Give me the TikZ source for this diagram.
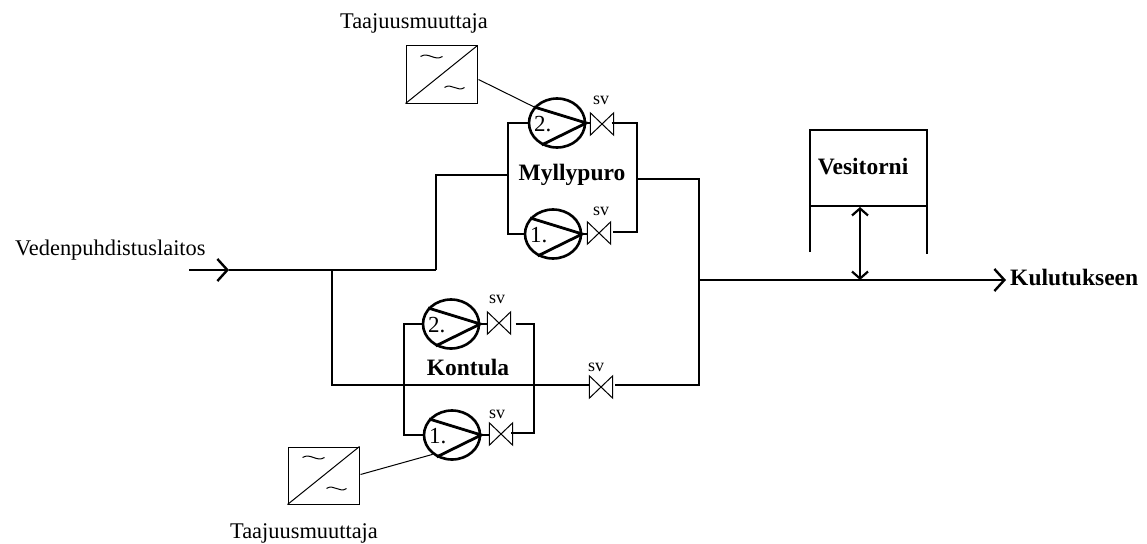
\documentclass[tikz,border=0pt]{standalone}
\usepackage{fontspec}
\setmainfont{Liberation Serif}
\usetikzlibrary{arrows.meta,shapes.geometric}
\tikzset{
  pipe/.style={line width=2.8pt,line join=miter},
  thinline/.style={line width=1pt},
  wire/.style={line width=1pt},
  pumpbody/.style={ellipse,draw,line width=2.6pt,inner sep=0pt,minimum width=56pt,minimum height=49pt},
  valvebody/.style={rectangle,inner sep=0pt,minimum width=23pt,minimum height=22pt},
  conv/.style={rectangle,draw,line width=1pt,inner sep=0pt,minimum width=71pt,minimum height=57pt},
  lab/.style={inner sep=0pt,font=\fontsize{22.4}{24}\selectfont},
  blab/.style={inner sep=0pt,font=\fontsize{23.5}{26}\selectfont\bfseries},
  svlab/.style={inner sep=0pt,font=\fontsize{18}{20}\selectfont},
  numlab/.style={inner sep=0pt,font=\fontsize{23}{26}\selectfont},
  openarrow/.style={-{Straight Barb[length=10pt,width=22pt,line width=2.4pt]}}
}
\newcommand{\mypump}[4]{% name, x, y, number
  \node[pumpbody] (#1) at (#2,#3) {};
  \draw[line width=2.8pt] (#1.145) -- (#1.east) -- (#1.235);
  \node[numlab] at ([xshift=15pt,yshift=-1pt]#1.west) {#4};
}
\newcommand{\myvalve}[3]{% name, x, y
  \node[valvebody] (#1) at (#2,#3) {};
  \draw[thinline] (#1.north west) -- (#1.south east) -- (#1.north east) -- (#1.south west) -- cycle;
}
\newcommand{\myconv}[3]{% name, x, y
  \node[conv] (#1) at (#2,#3) {};
  \draw[thinline] (#1.south west) -- (#1.north east);
  \draw[thinline] ([shift={(15pt,-11pt)}]#1.north west) .. controls +(8pt,5pt) and +(-8pt,-5pt) .. +(22pt,0pt);
  \draw[thinline] ([shift={(39pt,-42pt)}]#1.north west) .. controls +(7pt,5pt) and +(-7pt,-5pt) .. +(20pt,0pt);
}
\begin{document}
\begin{tikzpicture}[x=1pt,y=-1pt]
\useasboundingbox (0,0) rectangle (1147,543);
% pumps and valves
\mypump{mb}{557}{123}{2.}
\mypump{ma}{553}{234}{1.}
\mypump{kb}{451}{324}{2.}
\mypump{ka}{452}{435}{1.}
\myvalve{vmb}{602}{124}
\myvalve{vma}{599}{233}
\myvalve{vkb}{499}{323}
\myvalve{vka}{501}{434}
\myvalve{vmain}{601}{387}
% converters
\myconv{ct}{441.5}{74.5}
\myconv{cb}{323.5}{475.5}
\draw[wire] ([xshift=1pt,yshift=-34pt]ct.north east) -- (mb.145);
\draw[wire] ([xshift=1pt,yshift=-28pt]cb.north east) -- (ka.225);
% labels
\node[lab] at (414,23) {Taajuusmuuttaja};
\node[lab] at (304,533) {Taajuusmuuttaja};
\node[lab,anchor=west] at (15,250) {Vedenpuhdistuslaitos};
\node[blab] (myl) at (572,175) {Myllypuro};
\node[blab] (kon) at (468,367) {Kontula};
\node[blab] (ves) at (863,167) {Vesitorni};
\node[blab,anchor=west] (kul) at (1010,277) {Kulutukseen};
\node[svlab] at (601,100) {sv};
\node[svlab] at (601,211) {sv};
\node[svlab] at (497,299) {sv};
\node[svlab] at (497,414) {sv};
\node[svlab] at (596,367) {sv};
% free pipe corners
\coordinate (mleft) at (508,175);
\coordinate (mright) at (637,179);
\coordinate (kleft) at (404,385);
\coordinate (kright) at (534,385);
\coordinate (main1) at (436,270);
\coordinate (main0) at (189,270);
\coordinate (arrow1) at (229,270);
\coordinate (branch) at (332,270);
\coordinate (join) at (699,280);
\coordinate (out) at (1006,280);
\coordinate (tee) at (860,280);
\coordinate (teetop) at (860,207);
% Myllypuro loop
\draw[pipe] (mb.west) -- (508,123) -- (508,234) -- (ma.west);
\draw[pipe] ([xshift=-2pt]vmb.east |- mb.west) -- (637,123) -- (637,232) -- ([xshift=2pt]vma.east |- 637,232);
\draw[line width=2.4pt] (mb.east) -- (vmb.west |- mb.east);
\draw[line width=2.4pt] (ma.east) -- (vma.west |- ma.east);
\draw[pipe] (mleft) -- (436,175) -- (main1);
\draw[pipe] (mright) -- (699,179) -- (699,385) -- ([xshift=2pt]vmain.east |- kright);
% Kontula loop
\draw[pipe] (kb.west) -- (404,324) -- (404,435) -- (ka.west);
\draw[pipe] ([xshift=5pt]vkb.east |- kb.east) -- (534,324) -- (534,433) -- ([xshift=-2pt]vka.east |- 534,433);
\draw[line width=2.4pt] (kb.east) -- (vkb.west |- kb.east);
\draw[line width=2.4pt] (ka.east) -- (vka.west |- ka.east);
% mains
\draw[pipe] (main1) -- (arrow1);
\draw[line width=2.4pt,openarrow] (main0) -- (arrow1);
\draw[pipe] (branch) -- (332,385) -- (vmain.west |- kright);
\draw[line width=2.4pt,openarrow] (join) -- (out);
% water tower
\draw[line width=2.4pt] (810,252) -- (810,130) -- (927,130) -- (927,254);
\draw[line width=2.4pt] (810,206) -- (927,206);
\draw[line width=2.2pt,{Straight Barb[length=7pt,width=16pt,line width=2.2pt]}-{Straight Barb[length=7pt,width=16pt,line width=2.2pt]}] (teetop) -- (tee);
\end{tikzpicture}
\end{document}
